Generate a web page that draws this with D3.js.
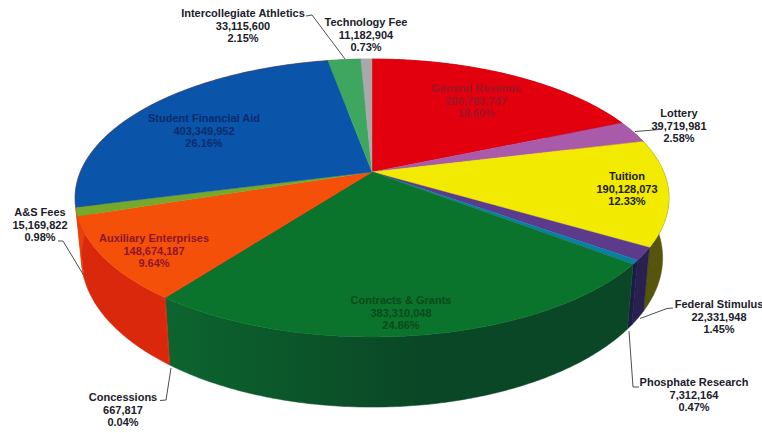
<!DOCTYPE html>
<html>
<head>
<meta charset="utf-8">
<script src="https://cdn.jsdelivr.net/npm/d3@7/dist/d3.min.js"></script>
<style>
  html, body { margin: 0; background: #fff; }
  text { font-family: "Liberation Sans", Arial, sans-serif; font-weight: bold; font-size: 11px; }
</style>
</head>
<body>
<svg id="chart" width="762" height="433"></svg>
<script>
// Revenue sources, clockwise from twelve o'clock
const categories = ["General Revenue", "Lottery", "Tuition", "Federal Stimulus", "Phosphate Research",
  "Contracts & Grants", "Concessions", "Auxiliary Enterprises", "A&S Fees", "Student Financial Aid",
  "Intercollegiate Athletics", "Technology Fee"];
const amounts = [286783747, 39719981, 190128073, 22331948, 7312164,
  383310048, 667817, 148674187, 15169822, 403349952, 33115600, 11182904];
const percents = ["18.60%", "2.58%", "12.33%", "1.45%", "0.47%",
  "24.86%", "0.04%", "9.64%", "0.98%", "26.16%", "2.15%", "0.73%"];

const faceColors = ["#e2000f", "#a95ba9", "#f2ea00", "#5c3a8c", "#0b7fa3",
  "#0b742c", "#d8260c", "#f5500a", "#76a92b", "#0a54aa", "#3fa660", "#a9a9ab"];
const sideColors = ["#9a0a0a", "#6a3a6a", "#55550c", "#2a2050", "#1c1c48",
  "#0b4a26", "#d8260c", "#d9280c", "#e8400c", "#e8400c", "#2a7040", "#777777"];
const labelColors = ["#a01525", "#20202a", "#20200a", "#20202a", "#20202a",
  "#0a4a1e", "#20202a", "#8f1528", "#20202a", "#0b2c6c", "#20202a", "#20202a"];

// Centre of each three-line label, in the same order as the categories
const labelX = [476, 679, 627, 719, 694, 401, 123, 154, 40, 204, 243, 366];
const labelY = [88, 113, 176, 304, 382, 300, 397, 238, 212, 118, 13, 22];
const lineStep = 12.6;

// Leader lines, by category name
const leaders = {
  "Lottery": [[659, 129.5], [648, 130.5], [635, 131.5]],
  "Federal Stimulus": [[673, 308], [667, 308.5], [640, 318.5]],
  "Phosphate Research": [[639, 387], [633, 387], [629, 331]],
  "Concessions": [[160, 400.5], [166, 400], [171, 368]],
  "A&S Fees": [[58, 241], [63, 241], [83.5, 275]],
  "Intercollegiate Athletics": [[306, 16], [312, 15], [345, 59]]
};

// Perspective view of the disc: far side compressed, near side stretched
const topPlane = { cx: 372, cy: 172, rx: 291.7, ry: 134.1, p: 0.187 };
const basePlane = { cx: 372, cy: 230, rx: 285.5, ry: 144, p: 0.187 };

function project(angle, plane) {
  const s = Math.sin(angle), c = Math.cos(angle);
  const w = 1 + plane.p * c;
  return [plane.cx + plane.rx * s / w, plane.cy - plane.ry * c / w];
}

const svg = d3.select("#chart");
const line = d3.line();
const pie = d3.pie().sort(null).value(d => d)(amounts);

function arcAngles(d) {
  const n = Math.max(2, Math.ceil((d.endAngle - d.startAngle) / 0.01));
  return d3.range(n + 1).map(i => d.startAngle + (d.endAngle - d.startAngle) * i / n);
}

// Contracts & Grants wall fades darker toward the right
const defs = svg.append("defs");
const wall = defs.append("linearGradient").attr("id", "grantsWall")
  .attr("gradientUnits", "userSpaceOnUse")
  .attr("x1", 170).attr("x2", 420).attr("y1", 0).attr("y2", 0);
wall.append("stop").attr("offset", 0).attr("stop-color", "#0d642e");
wall.append("stop").attr("offset", 1).attr("stop-color", "#0a4726");

// Side wall of the disc, painted first so the top face covers the far half
svg.append("g").selectAll("path").data(pie).join("path")
  .attr("d", d => {
    const a = arcAngles(d);
    return line(a.map(t => project(t, topPlane)).concat(a.reverse().map(t => project(t, basePlane)))) + "Z";
  })
  .attr("fill", d => d.index === 5 ? "url(#grantsWall)" : sideColors[d.index])
  .attr("stroke", d => d.index === 5 ? "url(#grantsWall)" : sideColors[d.index])
  .attr("stroke-width", 0.5);

// Top face
svg.append("g").selectAll("path").data(pie).join("path")
  .attr("d", d => line([[topPlane.cx, topPlane.cy]].concat(arcAngles(d).map(t => project(t, topPlane)))) + "Z")
  .attr("fill", d => faceColors[d.index])
  .attr("stroke", d => faceColors[d.index])
  .attr("stroke-width", 0.4);

// Leader lines
svg.append("g").selectAll("path").data(Object.values(leaders)).join("path")
  .attr("d", d => line(d))
  .attr("fill", "none")
  .attr("stroke", "#3a3a3a")
  .attr("stroke-width", 0.9);

// Three-line labels: name, amount, share
const fmt = d3.format(",");
const labels = svg.append("g").attr("text-anchor", "middle").selectAll("text").data(categories).join("text")
  .attr("fill", (d, i) => labelColors[i]);
labels.each(function (name, i) {
  [name, fmt(amounts[i]), percents[i]].forEach((row, j) => {
    d3.select(this).append("tspan")
      .attr("x", labelX[i])
      .attr("y", labelY[i] + j * lineStep + 4)
      .text(row);
  });
});
</script>
</body>
</html>
